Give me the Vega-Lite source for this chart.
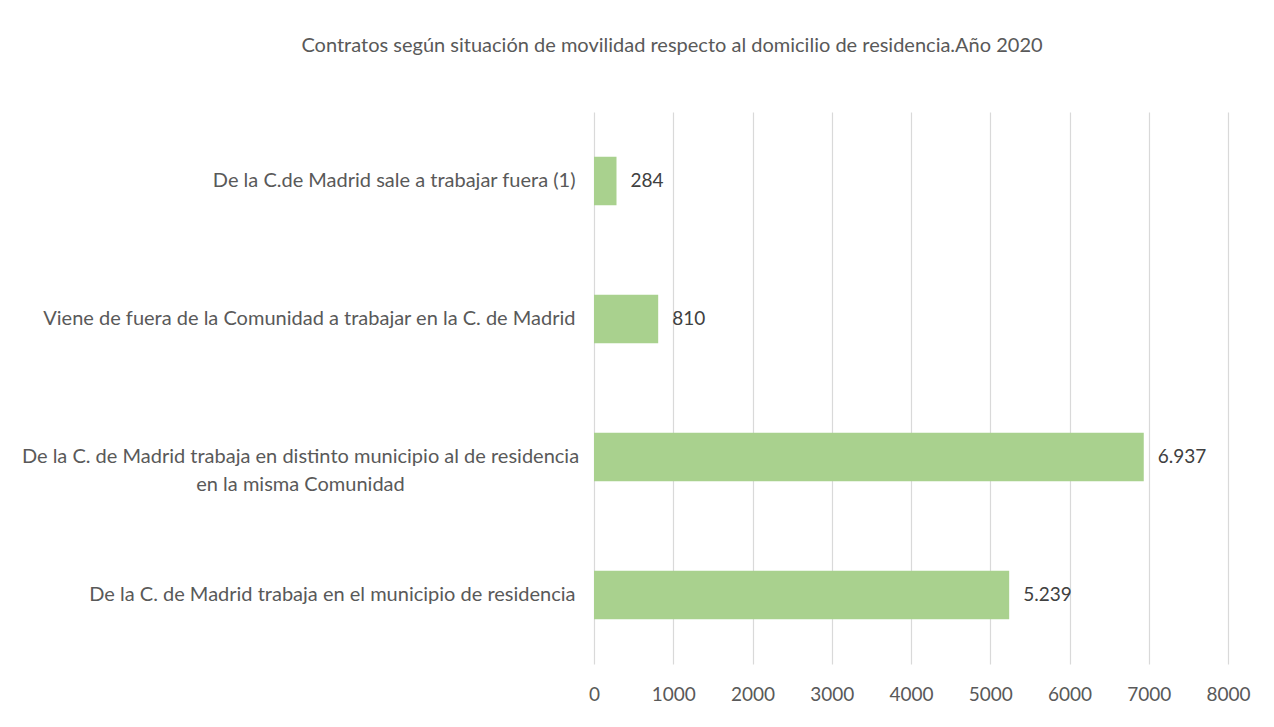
{
  "$schema": "https://vega.github.io/schema/vega-lite/v6.json",
  "width": 634,
  "height": 552,
  "autosize": {"type": "none"},
  "padding": {"left": 594, "top": 112, "right": 46, "bottom": 63},
  "background": "white",
  "config": {
    "view": {"stroke": null},
    "font": "Lato",
    "locale": {"number": {"decimal": ",", "thousands": ".", "grouping": [3], "currency": ["", " €"]}}
  },
  "title": {
    "text": "Contratos según situación  de movilidad respecto al domicilio de residencia.Año 2020",
    "fontSize": 20,
    "fontWeight": "normal",
    "color": "#595959",
    "font": "Lato",
    "anchor": "middle",
    "frame": "group",
    "dx": -239,
    "offset": 56
  },
  "data": {
    "values": [
      {"situacion": "De la C.de  Madrid sale a trabajar fuera (1)", "contratos": 284},
      {"situacion": "Viene de fuera de la Comunidad a trabajar en la C. de Madrid", "contratos": 810},
      {"situacion": "De la C. de Madrid trabaja en distinto municipio al de residencia|en la misma Comunidad", "contratos": 6937},
      {"situacion": "De la C. de Madrid trabaja en el municipio de residencia", "contratos": 5239}
    ]
  },
  "encoding": {
    "y": {
      "field": "situacion",
      "type": "nominal",
      "sort": null,
      "scale": {"paddingInner": 0.65, "paddingOuter": 0.325},
      "axis": {
        "title": null,
        "domain": false,
        "ticks": false,
        "grid": false,
        "labelFontSize": 20,
        "labelColor": "#595959",
        "labelLimit": 0,
        "labelExpr": "split(datum.label, '|')",
        "labelLineHeight": 28,
        "labelAlign": {"condition": {"test": "indexof(datum.value, '|') >= 0", "value": "center"}, "value": "right"},
        "labelPadding": {"condition": {"test": "indexof(datum.value, '|') >= 0", "value": 294}, "value": 19}
      }
    },
    "x": {
      "field": "contratos",
      "type": "quantitative",
      "scale": {"domain": [0, 8000], "nice": false},
      "axis": {
        "title": null,
        "values": [0, 1000, 2000, 3000, 4000, 5000, 6000, 7000, 8000],
        "format": "d",
        "grid": true,
        "gridColor": "#D9D9D9",
        "gridWidth": 1.2,
        "domain": false,
        "ticks": false,
        "labelFlush": false,
        "labelPadding": 21,
        "labelFontSize": 19,
        "labelColor": "#595959"
      }
    }
  },
  "layer": [
    {"mark": {"type": "bar", "color": "#A9D18E"}},
    {
      "mark": {"type": "text", "align": "left", "baseline": "middle", "dx": 14, "fontSize": 19, "color": "#404040"},
      "encoding": {"text": {"field": "contratos", "type": "quantitative", "format": ",d"}}
    }
  ]
}
